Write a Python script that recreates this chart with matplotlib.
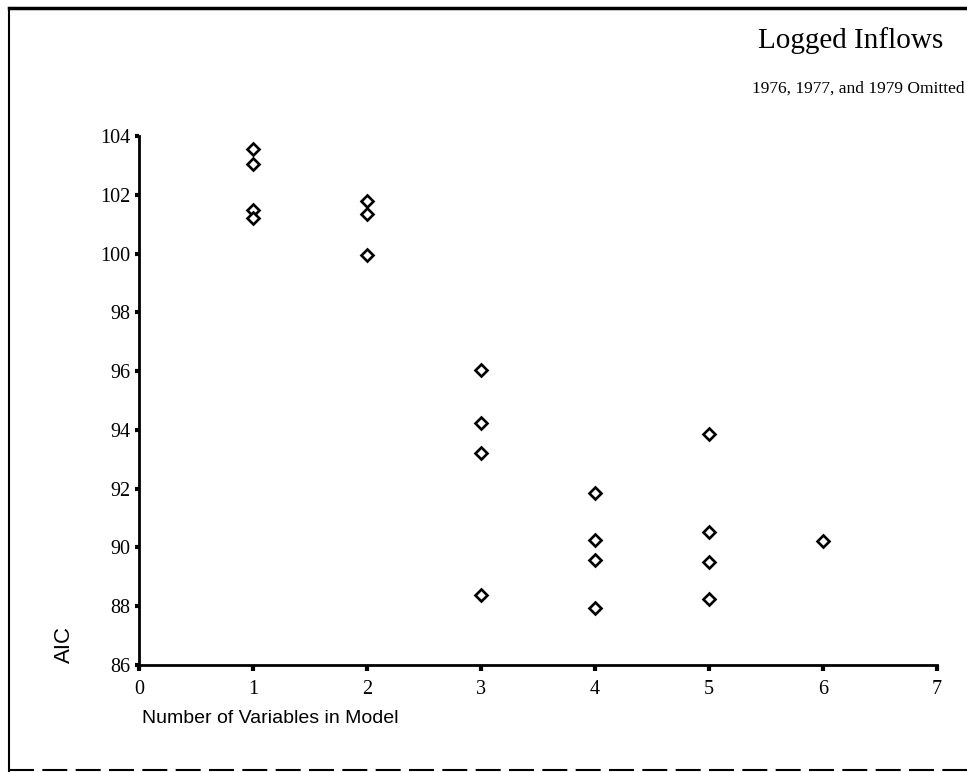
import matplotlib.pyplot as plt
from matplotlib.lines import Line2D

# AIC values by number of variables in the model
n_vars = [1, 1, 1, 1,
          2, 2, 2,
          3, 3, 3, 3,
          4, 4, 4, 4,
          5, 5, 5, 5,
          6]
aic = [103.57, 103.07, 101.5, 101.23,
       101.78, 101.36, 99.97,
       96.04, 94.23, 93.21, 88.39,
       91.85, 90.24, 89.56, 87.93,
       93.86, 90.52, 89.5, 88.26,
       90.22]

x_ticks = [0, 1, 2, 3, 4, 5, 6, 7]
y_ticks = [86, 88, 90, 92, 94, 96, 98, 100, 102, 104]

serif = 'Liberation Serif'
sans = 'Liberation Sans'

fig = plt.figure(figsize=(9.67, 7.72), dpi=100)
ax = fig.add_axes([0.1437, 0.1386, 0.825, 0.685])

ax.plot(n_vars, aic, linestyle='none', marker='D', markersize=6,
        markerfacecolor='white', markeredgecolor='black', markeredgewidth=1.9,
        clip_on=False)

ax.set_xlim(0, 7)
ax.set_ylim(86, 104)
ax.set_xticks(x_ticks)
ax.set_yticks(y_ticks)
ax.set_xticklabels([str(t) for t in x_ticks], fontfamily=serif, fontsize=14.5)
ax.set_yticklabels([str(t) for t in y_ticks], fontfamily=serif, fontsize=14.5)
ax.tick_params(axis='x', direction='out', length=4, width=3, pad=7)
ax.tick_params(axis='y', direction='out', length=3, width=3, pad=3)

for s in ['top', 'right']:
    ax.spines[s].set_visible(False)
for s in ['left', 'bottom']:
    ax.spines[s].set_linewidth(2)

fig.text(0.975, 0.948, 'Logged Inflows', family=serif, fontsize=21,
         ha='right', va='center')
fig.text(0.998, 0.885, '1976, 1977, and 1979 Omitted', family=serif,
         fontsize=12.5, ha='right', va='center')

fig.text(0.067, 0.165, 'AIC', family=sans, fontsize=16, rotation=90,
         ha='center', va='center')
fig.text(0.147, 0.069, 'Number of Variables in Model', family=sans,
         fontsize=14, ha='left', va='center')

# page frame
fig.add_artist(Line2D([0.009, 1.0], [0.989, 0.989], color='black', lw=2.5))
fig.add_artist(Line2D([0.009, 0.009], [0.0, 0.989], color='black', lw=1.5))
fig.add_artist(Line2D([0.009, 1.0], [0.003, 0.003], color='black', lw=1.5,
                      linestyle=(0, (12, 4))))

fig.savefig('out.png', dpi=100)
